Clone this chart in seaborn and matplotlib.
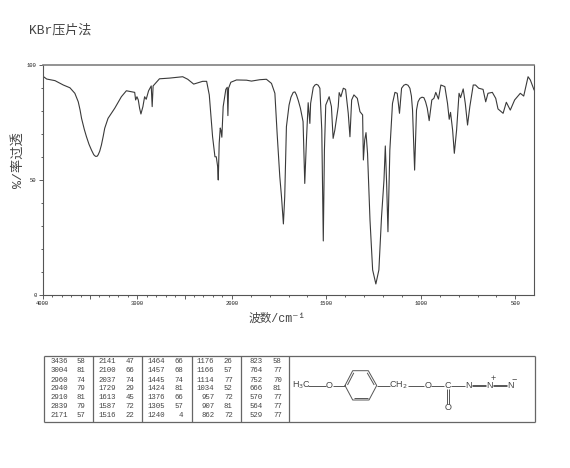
import matplotlib

matplotlib.use("Agg")
import matplotlib.pyplot as plt
import numpy as np
import pandas as pd
import seaborn as sns

wavenumber = [
    4000, 3958, 3870, 3782, 3712, 3660, 3624, 3605, 3589, 3560, 3537, 3510, 3484, 3460, 3442, 3425,
    3414, 3397, 3379, 3360, 3344, 3309,
    3238, 3168, 3115, 3027, 3017, 3003, 2989, 2975, 2961, 2940, 2922, 2905, 2880, 2852, 2842,
    2832, 2765, 2659, 2519, 2466, 2403, 2308, 2266, 2238, 2203, 2178, 2164, 2150, 2143, 2133,
    2122, 2115, 2105, 2091, 2063, 2048, 2041, 2034, 2010, 1975, 1922, 1896, 1852, 1817, 1790,
    1772, 1760, 1746, 1737, 1727, 1720, 1711, 1697, 1687, 1675, 1666, 1658, 1648, 1637, 1623, 1614, 1605, 1596,
    1587, 1583, 1569, 1560, 1552, 1543, 1534, 1524, 1516, 1510, 1503, 1485, 1473, 1464, 1455, 1446, 1437,
    1432, 1423, 1410, 1398, 1384, 1375, 1366, 1354, 1336, 1322, 1308, 1304, 1297, 1290, 1282,
    1269, 1255, 1238, 1222, 1208, 1195, 1188, 1181, 1174, 1164, 1150, 1137, 1125, 1113, 1102,
    1090, 1079, 1068, 1058, 1050, 1044, 1033, 1023, 1015, 1005, 994, 984, 975, 966, 956, 942, 931, 921, 907, 894, 873,
    859, 850, 843, 832, 823, 811, 798, 790, 776, 765, 753, 741, 723, 711, 694,
    671, 657, 645, 622, 604, 592, 565, 548, 527, 504, 474, 456, 433, 421, 401,
]
transmittance = [
    95.2, 93.9, 93.2, 91.3, 90.1, 87.7, 84.0, 80.5, 76.8, 72.0, 68.8, 65.5, 63.0, 61.0, 60.3, 60.3,
    60.9, 62.5, 65.2, 69.0, 72.5, 76.8,
    81.2, 86.2, 88.8, 88.1, 84.8, 86.2, 84.8, 81.2, 78.7, 81.9, 86.2, 85.1, 88.8, 90.9, 81.9,
    90.9, 94.0, 94.3, 94.9, 93.8, 91.7, 92.9, 92.9, 87.0, 68.8, 60.1, 60.1, 56.0, 50.0, 66.0,
    72.6, 71.7, 68.6, 81.9, 89.4, 90.3, 78.0, 89.9, 92.5, 93.5, 93.4, 93.0, 93.6, 93.8, 92.0,
    87.7, 70.0, 51.4, 42.7, 30.9, 42.7, 73.2, 82.6, 86.0, 88.1, 88.3, 87.0, 84.5, 81.2, 75.4, 48.5, 67.4, 83.6,
    74.6, 83.3, 90.3, 91.3, 91.6, 91.2, 89.9, 71.7, 23.5, 63.0, 82.6, 86.2, 81.9, 68.1, 71.7, 76.8, 81.9,
    88.0, 86.2, 89.9, 89.4, 79.0, 68.8, 84.8, 87.0, 85.5, 79.7, 78.3, 58.7, 67.4, 70.6, 61.6,
    32.6, 10.9, 4.8, 10.9, 34.0, 50.0, 64.8, 48.5, 27.5, 63.0, 83.3, 88.1, 87.7, 79.0, 89.9,
    91.2, 91.6, 91.2, 89.9, 86.5, 80.4, 54.3, 80.4, 84.0, 85.5, 86.0, 85.8, 84.0, 81.2, 75.8, 84.8, 85.5, 88.1, 85.2, 91.3, 90.6,
    83.3, 76.4, 79.4, 71.7, 61.6, 71.7, 87.7, 85.8, 89.6, 83.3, 73.9, 81.9, 91.3, 91.3, 89.9,
    89.4, 84.0, 87.7, 88.1, 85.5, 80.9, 79.0, 83.8, 80.4, 84.8, 87.7, 86.5, 94.9, 93.5, 89.1,
]

x_ticks = [4000, 3000, 2000, 1500, 1000, 500]
y_ticks = [0, 50, 100]

peak_wavenumbers = [
    [3436, 3004, 2960, 2940, 2910, 2839, 2171],
    [2141, 2100, 2037, 1729, 1613, 1587, 1516],
    [1464, 1457, 1445, 1424, 1376, 1305, 1240],
    [1176, 1166, 1114, 1034, 957, 907, 862],
    [823, 764, 752, 666, 570, 564, 529],
]
peak_values = [
    [58, 81, 74, 79, 81, 79, 57],
    [47, 66, 74, 29, 45, 72, 22],
    [66, 68, 74, 81, 66, 57, 4],
    [26, 57, 77, 52, 72, 81, 72],
    [58, 77, 70, 81, 77, 77, 77],
]

FONTS = ["Liberation Mono", "Noto Sans CJK SC", "DejaVu Sans"]
LINE_COLOR = "#3a3a3a"
TEXT_COLOR = "#444444"


# the x axis doubles its scale below 2000 cm-1
def stretch(wn):
    wn = np.asarray(wn, dtype=float)
    return np.where(wn >= 2000, wn, 2 * wn - 2000)


def unstretch(pos):
    pos = np.asarray(pos, dtype=float)
    return np.where(pos >= 2000, pos, (pos + 2000) / 2)


def bond(ax, x1, y1, x2, y2, lw=0.7, color="#555555"):
    ax.plot([x1, x2], [y1, y2], color=color, lw=lw, solid_capstyle="butt")


def atom(ax, x, y, label, size=6.5):
    ax.text(x, y, label, family="Liberation Sans", fontsize=size, color=TEXT_COLOR,
            ha="center", va="center", math_fontfamily="dejavusans")


sns.set_theme(style="white")
plt.rcParams["font.family"] = FONTS

fig = plt.figure(figsize=(5.7, 4.68), dpi=100)
ax = fig.add_axes([42.7 / 570, 1 - 295 / 468, (534.3 - 42.7) / 570, 230 / 468])

df = pd.DataFrame({"wavenumber": wavenumber, "transmittance": transmittance})
sns.lineplot(data=df, x="wavenumber", y="transmittance", estimator=None, sort=False,
             color=LINE_COLOR, lw=0.8, ax=ax)

ax.set_xscale("function", functions=(stretch, unstretch))
ax.set_xlim(4000, 400)
ax.set_ylim(0, 100)

ax.set_xticks(x_ticks + [3500, 2500])
ax.set_xticklabels([str(t) for t in x_ticks] + ["", ""])
ax.set_xticks(np.arange(500, 4000, 100), minor=True)
ax.set_yticks(y_ticks)
ax.set_yticks(np.arange(0, 101, 10), minor=True)
ax.tick_params(axis="both", which="major", length=3, width=0.6, color="#444444", labelsize=4,
               pad=1.5, labelcolor="#222222", bottom=True, left=True)
ax.tick_params(axis="both", which="minor", length=1.5, width=0.6, color="#444444",
               bottom=True, left=True)
ax.set_xlabel("")
ax.set_ylabel("")

for side in ["left", "right", "bottom"]:
    ax.spines[side].set_color("#555555")
    ax.spines[side].set_linewidth(0.8)
ax.spines["top"].set_color("#808080")
ax.spines["top"].set_linewidth(1.2)

# everything outside the plot is placed in image pixels
page = fig.add_axes([0, 0, 1, 1], facecolor="none")
page.set_xlim(0, 570)
page.set_ylim(468, 0)
page.axis("off")

page.text(29, 30, "KBr压片法", fontsize=9.4, color=TEXT_COLOR, va="center", ha="left")
page.text(277, 318.5, "波数/cm⁻¹", fontsize=8.4, color=TEXT_COLOR, va="center", ha="center")
page.text(18, 160, "%/率过透", fontsize=9.5, color=TEXT_COLOR, rotation=90, va="center", ha="center")

# peak table
for x in [43.5, 92.7, 142, 191.7, 241, 289.3, 535]:
    bond(page, x, 355.7, x, 421.7, lw=0.9, color="#666666")
for y in [355.7, 421.7]:
    bond(page, 43.5, y, 535, y, lw=0.9, color="#666666")

row_y = [361.7, 370.7, 380, 388.7, 397.7, 406.7, 415.3]
wn_right = [67.7, 116, 165, 214.3, 263]
value_right = [85, 134.3, 183.3, 232.7, 281.7]
for c in range(5):
    for r in range(7):
        page.text(wn_right[c], row_y[r], str(peak_wavenumbers[c][r]), fontsize=5.3,
                  color=TEXT_COLOR, ha="right", va="center")
        page.text(value_right[c], row_y[r], str(peak_values[c][r]), fontsize=5.3,
                  color=TEXT_COLOR, ha="right", va="center")

# structure
mid = 385.5
atom(page, 302, mid, "H$_3$C")
bond(page, 308.3, mid, 326, mid)
atom(page, 329.5, mid, "O")
bond(page, 332.7, mid, 345, mid)
ring_x = [345, 352.7, 368.3, 376.7, 369, 352.7, 345]
ring_y = [mid, 370.7, 370.7, mid, 400, 400, mid]
page.plot(ring_x, ring_y, color="#555555", lw=0.7)
bond(page, 347.5, mid - 0.5, 353.8, 372.8)
bond(page, 374.2, mid - 0.5, 367.2, 372.8)
bond(page, 354, 398.2, 367.8, 398.2)
bond(page, 376.7, mid, 390, mid)
atom(page, 398.5, mid, "CH$_2$")
bond(page, 408, mid, 424, mid)
atom(page, 427.7, mid, "O")
bond(page, 430.7, mid, 444.3, mid)
atom(page, 447.7, mid, "C")
bond(page, 450.7, mid, 465, mid)
atom(page, 469, mid, "N")
bond(page, 472.3, mid - 0.7, 486, mid - 0.7)
bond(page, 472.3, mid + 0.7, 486, mid + 0.7)
atom(page, 489.3, mid, "N")
atom(page, 492.7, 378.3, "+")
bond(page, 492.7, mid - 0.7, 506.7, mid - 0.7)
bond(page, 492.7, mid + 0.7, 506.7, mid + 0.7)
atom(page, 510.7, mid, "N")
atom(page, 514, 378.3, "−")
bond(page, 446.9, 389.3, 446.9, 404.3)
bond(page, 448.5, 389.3, 448.5, 404.3)
atom(page, 447.7, 407.8, "O")

fig.savefig("out.png", dpi=100)
